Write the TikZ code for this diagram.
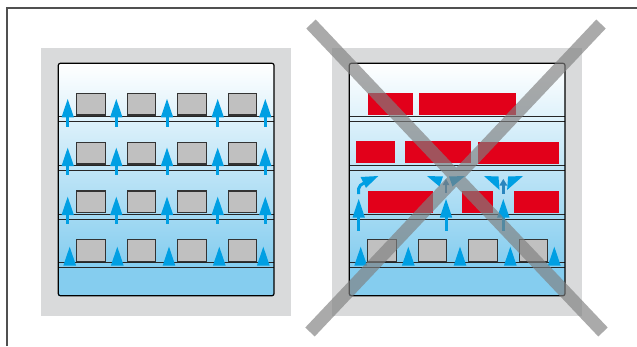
\documentclass[tikz,border=0pt]{standalone}
\definecolor{panelbg}{HTML}{D9DADB}
\definecolor{airblue}{HTML}{009FE3}
\definecolor{darkair}{HTML}{2A86BE}
\definecolor{boxgray}{HTML}{C0C0C0}
\definecolor{blockred}{HTML}{E2001A}
\definecolor{cabbottom}{HTML}{85CDEF}
\definecolor{framegray}{HTML}{505050}
\definecolor{crossgray}{HTML}{7F7F7F}
\tikzset{
  framestroke/.style={draw=framegray, line width=1.4pt},
  panel/.style={fill=panelbg},
  shelfline/.style={draw=black!85, line width=0.9pt},
  goodbox/.style={fill=boxgray, draw=black!80, line width=1.1pt},
  badbox/.style={fill=blockred},
  airfill/.style={fill=airblue},
  darkfill/.style={fill=darkair},
  crossstroke/.style={draw=crossgray, line width=13pt, draw opacity=0.66},
}
% up arrow: x, tip y, base y, shaft end y
\newcommand\airarrow[4]{%
  \fill[airfill] (#1-6.2,#3) -- (#1,#2) -- (#1+6.2,#3) -- cycle;
  \fill[airfill] (#1-1.5,#3-0.5) rectangle (#1+1.5,#4);}
\newcommand\airtri[1]{%
  \fill[airfill] (#1-6.4,265.7) -- (#1,246.7) -- (#1+6.4,265.7) -- cycle;}
\newcommand\cabinet{%
  \fill[panel] (41,48) rectangle (290.5,316);
  \shade[top color=white, bottom color=cabbottom] (58.3,63.3) rectangle (274,266);
  \fill[cabbottom] (58.3,265.5) rectangle (274,295.7);
  \foreach \s in {116.7,165.3,214,262.9}{
    \draw[shelfline] (58.3,\s) -- (274,\s);
    \draw[shelfline] (58.3,\s+5) -- (274,\s+5);}
  \draw[black, line width=1.2pt, rounded corners=2pt] (58.3,63.3) rectangle (274,295.7);}
\begin{document}
\begin{tikzpicture}[x=1pt,y=-1pt]
\useasboundingbox (0,0) rectangle (637,346);
\fill[white] (0,0) rectangle (637,346);
% outer frame
\draw[framestroke] (7,346) -- (7,8) -- (637,8);

% ---------- left cabinet ----------
\cabinet
\foreach \y in {93.3,142.3,191,239.7}{
  \foreach \x in {76.7,127.3,177.7,228.3}{
    \draw[goodbox] (\x,\y) rectangle (\x+28.5,\y+21.7);}}
\foreach \t in {99,147.7,196.7}{
  \foreach \x in {67.7,116.3,167,217.7,265.3}{
    \airarrow{\x}{\t}{\t+18.3}{\t+27.7}}}
\foreach \x in {69.7,117.3,169,219.3,263.3}{\airtri{\x}}

% ---------- right cabinet ----------
\begin{scope}[xshift=291pt]
\cabinet
\foreach \x in {76.7,127.3,177.7,228.3}{
  \draw[goodbox] (\x,239.7) rectangle (\x+28.5,261.4);}
\foreach \x in {69.7,117.3,169,219.3,263.3}{\airtri{\x}}
\end{scope}
% blocking red goods
\fill[badbox] (368,93.3) rectangle (412.7,115);
\fill[badbox] (419,93.3) rectangle (516,115);
\fill[badbox] (356,141) rectangle (395,163);
\fill[badbox] (405,141) rectangle (471,163);
\fill[badbox] (478,142) rectangle (559,164);
\fill[badbox] (368,191) rectangle (433,212.7);
\fill[badbox] (462,191) rectangle (493,212.7);
\fill[badbox] (514,191) rectangle (559,212.7);
% arrows through third shelf
\foreach \x in {358.7,446,503.3}{\airarrow{\x}{199}{217.5}{230.7}}
% deflected flow, left
\draw[airblue, line width=3pt] (358.7,194) -- (358.7,188.5) to[out=90,in=215] (364,183);
\fill[airfill] (360.5,177) -- (378.3,176) -- (366,187.8) -- cycle;
% split flow, middle
\fill[airfill] (427,176) -- (443,176.5) -- (439.5,186.5) -- cycle;
\fill[airfill] (465,176) -- (449,176.5) -- (452.5,186.5) -- cycle;
\fill[darkfill] (444.7,184) rectangle (447.3,193);
\fill[darkfill] (442.5,185.2) -- (446,179) -- (449.5,185.2) -- cycle;
% split flow, right
\fill[airfill] (484,176) -- (498.5,176.5) -- (499.5,190) -- cycle;
\fill[airfill] (523,176) -- (508.1,176.5) -- (507.1,190) -- cycle;
\fill[darkfill] (501.8,184) rectangle (504.8,194);
\fill[darkfill] (499.3,185.5) -- (503.3,179) -- (507.3,185.5) -- cycle;

% ---------- cross ----------
\draw[crossstroke] (311,24) -- (603,332) (601,24) -- (310,332);
\end{tikzpicture}
\end{document}
